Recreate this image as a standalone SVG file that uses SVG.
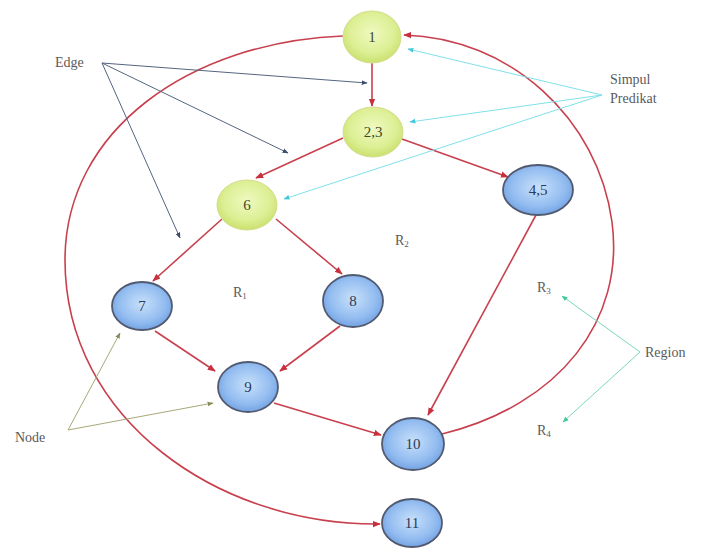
<svg xmlns="http://www.w3.org/2000/svg" width="705" height="548" viewBox="0 0 705 548" font-family="'Liberation Serif', 'DejaVu Serif', serif">
<defs>
<radialGradient id="gy" cx="0.5" cy="0.42" r="0.6">
<stop offset="0" stop-color="#f0f9c0"/>
<stop offset="0.65" stop-color="#dcef94"/>
<stop offset="1" stop-color="#c8df6a"/>
</radialGradient>
<radialGradient id="gb" cx="0.5" cy="0.45" r="0.6">
<stop offset="0" stop-color="#c8e0fa"/>
<stop offset="0.65" stop-color="#92bcf0"/>
<stop offset="1" stop-color="#6b9be0"/>
</radialGradient>
<marker id="ar" viewBox="0 0 10 10" refX="9" refY="5" markerWidth="8" markerHeight="8" markerUnits="userSpaceOnUse" orient="auto">
<path d="M0,1 L10,5 L0,9 z" fill="#c8303e"/>
</marker>
<marker id="ab" viewBox="0 0 10 10" refX="9" refY="5" markerWidth="6" markerHeight="6" markerUnits="userSpaceOnUse" orient="auto">
<path d="M0,1 L10,5 L0,9 z" fill="#3c4c6c"/>
</marker>
<marker id="ac" viewBox="0 0 10 10" refX="9" refY="5" markerWidth="6" markerHeight="6" markerUnits="userSpaceOnUse" orient="auto">
<path d="M0,1 L10,5 L0,9 z" fill="#40c8d8"/>
</marker>
<marker id="ag" viewBox="0 0 10 10" refX="9" refY="5" markerWidth="6" markerHeight="6" markerUnits="userSpaceOnUse" orient="auto">
<path d="M0,1 L10,5 L0,9 z" fill="#40c8a0"/>
</marker>
<marker id="ak" viewBox="0 0 10 10" refX="9" refY="5" markerWidth="6" markerHeight="6" markerUnits="userSpaceOnUse" orient="auto">
<path d="M0,1 L10,5 L0,9 z" fill="#8a8a5a"/>
</marker>
</defs>
<style>
.e{fill:none;stroke:#c8404e;stroke-width:1.6;marker-end:url(#ar)}
.eb{fill:none;stroke:#55657f;stroke-width:1;marker-end:url(#ab)}
.ec{fill:none;stroke:#7fe0ea;stroke-width:1;marker-end:url(#ac)}
.eg{fill:none;stroke:#7ad8b8;stroke-width:1;marker-end:url(#ag)}
.ek{fill:none;stroke:#a8a878;stroke-width:1;marker-end:url(#ak)}
.ny ellipse{fill:url(#gy);stroke:#d6dc8c;stroke-width:1}
.nb ellipse{fill:url(#gb);stroke:#525a70;stroke-width:1.8}
.ny text{fill:#3e4c28}
.nb text{fill:#2a3a5a}
.lbl{fill:#5a5a5a}
</style>
<rect width="705" height="548" fill="#ffffff"/>
<g id="connectors">
<path class="e" d="M372,63 L372,106"/>
<path class="e" d="M343,138 L256,178"/>
<path class="e" d="M402,139 L508,177"/>
<path class="e" d="M222,219 L153,281"/>
<path class="e" d="M276,219 L342,274"/>
<path class="e" d="M155,331 L215,371"/>
<path class="e" d="M340,326 L280,371"/>
<path class="e" d="M274,403 L381,435"/>
<path class="e" d="M536,215 L428,415"/>
<path class="e" d="M442,434 C560,405 625,320 612,222 C598,118 510,38 404,35"/>
<path class="e" d="M343,36 C190,42 65,130 65,260 C65,420 220,526 380,524"/>
<path class="eb" d="M102,63 L367,83"/>
<path class="eb" d="M102,63 L288,153"/>
<path class="eb" d="M102,63 L180,238"/>
<path class="ec" d="M602,95 L408,49"/>
<path class="ec" d="M602,95 L410,122"/>
<path class="ec" d="M602,95 L284,199"/>
<path class="eg" d="M640,352 L562,296"/>
<path class="eg" d="M640,352 L563,422"/>
<path class="ek" d="M68,430 L120,333"/>
<path class="ek" d="M68,430 L213,403"/>
</g>
<g font-size="15" text-anchor="middle">
<g id="n1" class="ny"><ellipse cx="372" cy="37" rx="29" ry="26"/><text x="372" y="42">1</text></g>
<g id="n23" class="ny"><ellipse cx="373" cy="132" rx="30" ry="25"/><text x="373" y="137">2,3</text></g>
<g id="n6" class="ny"><ellipse cx="247" cy="205" rx="30" ry="25"/><text x="247" y="210">6</text></g>
<g id="n45" class="nb"><ellipse cx="538" cy="190" rx="35" ry="25"/><text x="538" y="195">4,5</text></g>
<g id="n7" class="nb"><ellipse cx="142" cy="306" rx="30" ry="24"/><text x="142" y="311">7</text></g>
<g id="n8" class="nb"><ellipse cx="353" cy="301" rx="30" ry="26"/><text x="353" y="306">8</text></g>
<g id="n9" class="nb"><ellipse cx="248" cy="387" rx="30" ry="25"/><text x="248" y="392">9</text></g>
<g id="n10" class="nb"><ellipse cx="413" cy="444" rx="31" ry="26"/><text x="413" y="449">10</text></g>
<g id="n11" class="nb"><ellipse cx="412" cy="523" rx="30" ry="24"/><text x="412" y="528">11</text></g>
</g>
<g id="labels" font-size="14">
<text class="lbl" x="55" y="67">Edge</text>
<text class="lbl" x="610" y="84">Simpul</text>
<text class="lbl" x="610" y="103">Predikat</text>
<text class="lbl" x="645" y="357">Region</text>
<text class="lbl" x="15" y="442">Node</text>
<text class="lbl" x="233" y="297">R<tspan font-size="9" dy="2">1</tspan></text>
<text class="lbl" x="395" y="245">R<tspan font-size="9" dy="2">2</tspan></text>
<text class="lbl" x="537" y="292">R<tspan font-size="9" dy="2">3</tspan></text>
<text class="lbl" x="537" y="435">R<tspan font-size="9" dy="2">4</tspan></text>
</g>
</svg>
